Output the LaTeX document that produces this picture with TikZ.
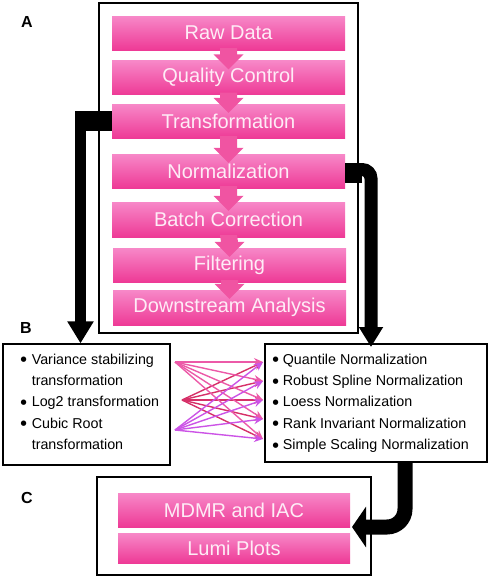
\documentclass[tikz,border=0pt]{standalone}
\usepackage{fontspec}
\setmainfont{Liberation Sans}
\newfontfamily\dejavu{DejaVu Sans}
\usetikzlibrary{arrows.meta,calc}
\definecolor{pinktop}{RGB}{247,136,200}
\definecolor{pinkbot}{RGB}{238,58,150}
\definecolor{pinktext}{RGB}{254,236,246}
\definecolor{arrowpink}{RGB}{240,84,162}
\definecolor{linepink}{RGB}{236,90,168}
\definecolor{linered}{RGB}{214,48,104}
\definecolor{lineviolet}{RGB}{204,84,230}
\newcommand{\blt}{\raisebox{0.3ex}{\dejavu\fontsize{7}{7}\selectfont ●}}
\begin{document}
\begin{tikzpicture}[x=1pt,y=-1pt,
  pinkbox/.style={rectangle, top color=pinktop, bottom color=pinkbot, draw=none,
    minimum width=233pt, minimum height=34pt, inner sep=0pt, text=pinktext,
    font=\fontsize{20}{24}\selectfont},
  frame/.style={draw=black, line width=1.3pt, rectangle, inner sep=0pt},
  listtext/.style={anchor=north west, inner sep=0pt, align=left,
    font=\fontsize{14.3}{21.3}\selectfont},
  panel/.style={font=\bfseries\fontsize{16}{16}\selectfont, inner sep=0pt},
  blockarrow/.style={fill=arrowpink, draw=none},
  fan/.style={line width=1.4pt, -{Stealth[length=9pt,width=8pt]}},
  thickconn/.style={draw=black, line width=#1},
]
\useasboundingbox (0,0) rectangle (490,579);

% frames
\node[frame, minimum width=259pt, minimum height=330pt] (boxA) at (228.5,168) {};
\node[frame, minimum width=167pt, minimum height=121pt] (boxL) at (86.5,404.5) {};
\node[frame, minimum width=222pt, minimum height=118pt] (boxR) at (376,403) {};
\node[frame, minimum width=274pt, minimum height=98pt] (boxC) at (234,526) {};

% panel labels
\node[panel] (labA) at (27,22) {A};
\node[panel] (labB) at (26,328) {B};
\node[panel] (labC) at (27,498) {C};

% pipeline boxes
\node[pinkbox] (raw) at (228.5,33) {Raw Data};
\node[pinkbox] (qc) at (228.5,77.5) {Quality Control};
\node[pinkbox] (trans) at (228.5,121) {Transformation};
\node[pinkbox] (norm) at (228.5,171) {Normalization};
\node[pinkbox, minimum height=35pt] (batch) at (228.5,219.5) {Batch Correction};
\node[pinkbox] (filt) at (229.5,265) {Filtering};
\node[pinkbox, minimum height=35pt] (down) at (229.5,307.5) {Downstream Analysis};

% block arrows between pipeline boxes
\foreach \a/\b in {raw/qc, qc/trans, trans/norm, norm/batch, batch/filt, filt/down}{
  \fill[blockarrow] ($(\a.south)+(-8.5,-2)$) -- ($(\a.south)+(8.5,-2)$)
    -- ($(\b.north)+(8.5,-6)$) -- ($(\b.north)+(15,-6)$)
    -- ($(\b.north)+(0,9)$)
    -- ($(\b.north)+(-15,-6)$) -- ($(\b.north)+(-8.5,-6)$) -- cycle;
}

% panel C boxes
\node[pinkbox, minimum width=232pt] (mdmr) at (234,510) {MDMR and IAC};
\node[pinkbox, minimum width=232pt, minimum height=30pt] (lumi) at (234,548) {Lumi Plots};

% lists
\node[listtext] (listL) at (20.5,349) {%
  \begin{tabular}{@{}l@{\hspace{5pt}}l@{}}
  \blt & Variance stabilizing\\
       & transformation\\
  \blt & Log2 transformation\\
  \blt & Cubic Root\\
       & transformation
  \end{tabular}};
\node[listtext] (listR) at (272.5,349) {%
  \begin{tabular}{@{}l@{\hspace{4pt}}l@{}}
  \blt & Quantile Normalization\\
  \blt & Robust Spline Normalization\\
  \blt & Loess Normalization\\
  \blt & Rank Invariant Normalization\\
  \blt & Simple Scaling Normalization
  \end{tabular}};

% fan of arrows
\coordinate (s1) at (175,362);
\coordinate (s2) at (182,400);
\coordinate (s3) at (175,430);
\coordinate (t1) at (263,362);
\coordinate (t2) at (263,381);
\coordinate (t3) at (263,400);
\coordinate (t4) at (263,419);
\coordinate (t5) at (263,439);
\foreach \s/\c in {s2/linered, s1/linepink, s3/lineviolet}{
  \foreach \t in {t1,t2,t3,t4,t5}{
    \draw[fan, draw=\c, fill=\c] (\s) -- (\t);
  }
}

% black connectors
\coordinate (lBend) at (75,121);
\coordinate (lTop) at (80.5,111);
\draw[thickconn=20pt] (trans.west) -- (lBend);
\draw[thickconn=11pt, -{Triangle[length=22pt,width=25pt]}] (lTop) -- (lTop |- boxL.north);

\coordinate (rStart) at (345,173);
\coordinate (rStub) at (362,173);
\coordinate (rA) at (352,169.5);
\coordinate (rCorner) at (371,169.5);
\coordinate (rEnd) at (371,347);
\draw[thickconn=20pt] (rStart) -- (rStub);
\draw[thickconn=13pt, rounded corners=9pt, -{Triangle[length=20pt,width=23pt]}]
  (rA) -- (rCorner) -- (rEnd);

\coordinate (bTop) at (405,462);
\coordinate (bCorner) at (405,527);
\coordinate (bTip) at (352,527);
\draw[thickconn=15pt, rounded corners=18pt, -{Triangle[length=14pt,width=40pt]}]
  (bTop |- boxR.south) -- (bCorner) -- (bTip);
\end{tikzpicture}
\end{document}
